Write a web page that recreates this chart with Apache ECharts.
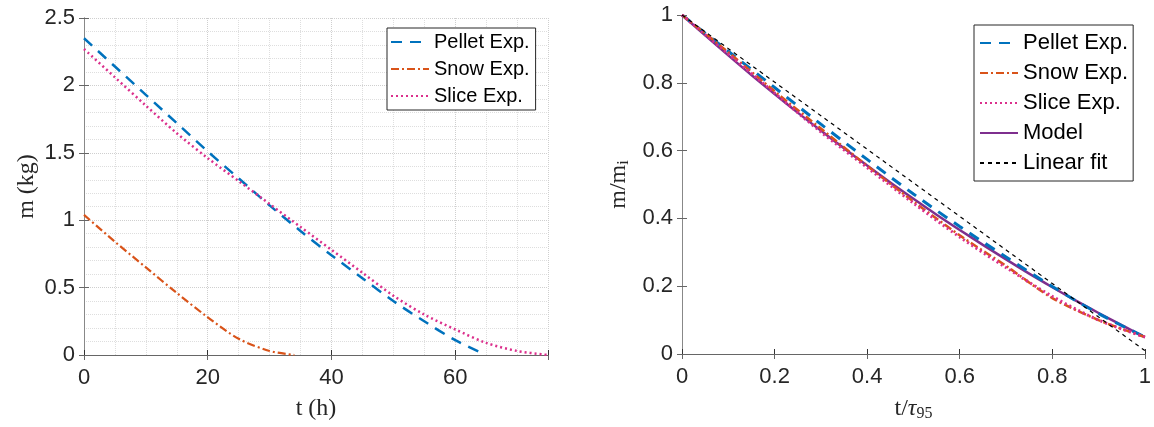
<!DOCTYPE html>
<html>
<head>
<meta charset="utf-8">
<script src="https://cdn.jsdelivr.net/npm/echarts@6/dist/echarts.min.js"></script>
<style>
html,body{margin:0;padding:0;background:#fff;}
#c{width:1154px;height:427px;}
</style>
</head>
<body>
<div id="c"></div>
<script>
// ---- Left panel: absolute mass vs time ----
const pelletT = [0, 5, 10, 15, 20, 25, 30, 35, 40, 45, 50, 55, 60, 64.5];
const pelletM = [2.35, 2.14, 1.93, 1.72, 1.51, 1.31, 1.11, 0.92, 0.74, 0.57, 0.40, 0.25, 0.11, 0.01];
const snowT = [0, 5, 10, 15, 20, 25, 30, 34];
const snowM = [1.04, 0.84, 0.65, 0.46, 0.28, 0.12, 0.03, 0.0];
const sliceT = [0, 5, 10, 15, 20, 25, 30, 35, 40, 45, 50, 55, 60, 65, 70, 75];
const sliceM = [2.27, 2.06, 1.85, 1.645, 1.46, 1.29, 1.12, 0.95, 0.78, 0.61, 0.44, 0.30, 0.19, 0.09, 0.03, 0.0];

// ---- Right panel: normalized mass vs normalized time ----
const normX = [0, 0.1, 0.2, 0.3, 0.4, 0.5, 0.6, 0.7, 0.8, 0.9, 1.0];
const pelletN = [1.0, 0.893, 0.786, 0.678, 0.574, 0.472, 0.376, 0.286, 0.199, 0.119, 0.05];
const snowN = [1.0, 0.89, 0.775, 0.665, 0.555, 0.45, 0.35, 0.26, 0.165, 0.10, 0.05];
const sliceN = [1.0, 0.885, 0.77, 0.655, 0.55, 0.445, 0.345, 0.255, 0.17, 0.10, 0.05];
const modelX = [0, 0.05, 0.1, 0.15, 0.2, 0.25, 0.3, 0.35, 0.4, 0.45, 0.5, 0.55, 0.6, 0.65, 0.7, 0.75, 0.8, 0.85, 0.9, 0.95, 1.0];
const modelN = [1.0, 0.940, 0.881, 0.823, 0.767, 0.712, 0.659, 0.607, 0.556, 0.506, 0.458, 0.411, 0.366, 0.322, 0.279, 0.237, 0.197, 0.158, 0.121, 0.085, 0.05];
const linX = [0, 1];
const linN = [1.0, 0.01];

const leftXTicks = [0, 20, 40, 60];
const leftYTicks = [0, 0.5, 1, 1.5, 2, 2.5];
const rightXTicks = [0, 0.2, 0.4, 0.6, 0.8, 1];
const rightYTicks = [0, 0.2, 0.4, 0.6, 0.8, 1];

function pairs(xs, ys) { return xs.map((x, i) => [x, ys[i]]); }

const C_PELLET = '#0072BD', C_SNOW = '#D95319', C_SLICE = '#DB2F8C', C_MODEL = '#7E2F8E';
const tickFont = { fontFamily: 'Liberation Sans, Arial, sans-serif', fontSize: 22, color: '#262626' };
const serif = 'Liberation Serif, Times New Roman, serif';

function fmt(v) { return String(Math.round(v * 10) / 10); }

const chart = echarts.init(document.getElementById('c'), null, { renderer: 'canvas' });

const legendCommon = {
  orient: 'vertical', itemWidth: 38, itemHeight: 14,
  borderColor: '#262626', borderWidth: 1, backgroundColor: '#fff',
  itemStyle: { opacity: 0, borderWidth: 0 },
  selectedMode: false
};

const option = {
  animation: false,
  backgroundColor: '#fff',
  grid: [
    { left: 84, right: 606, top: 18, bottom: 72, show: false },
    { left: 682, right: 6, top: 15, bottom: 72, show: false }
  ],
  xAxis: [
    { gridIndex: 0, type: 'value', min: 0, max: 75, interval: 20, position: 'bottom',
      name: 't (h)', nameLocation: 'middle', nameGap: 42,
      nameTextStyle: { fontFamily: serif, fontSize: 24, color: '#262626' },
      axisLine: { show: true, lineStyle: { color: '#333', width: 1 } },
      axisTick: { inside: true, length: 5, lineStyle: { color: '#333' } },
      axisLabel: Object.assign({ margin: 12, formatter: v => leftXTicks.includes(v) ? fmt(v) : '' }, tickFont),
      splitLine: { show: true, lineStyle: { color: '#cfcfcf', type: 'dotted', width: 1 } },
      minorTick: { show: true, splitNumber: 4, length: 0 },
      minorSplitLine: { show: true, lineStyle: { color: '#dedede', type: 'dotted', width: 1 } } },
    { gridIndex: 0, type: 'value', min: 0, max: 75, interval: 20, position: 'top',
      axisLine: { show: true, lineStyle: { color: '#666', width: 1 } },
      axisTick: { inside: true, length: 5, lineStyle: { color: '#666' } },
      axisLabel: { show: false }, splitLine: { show: false } },
    { gridIndex: 1, type: 'value', min: 0, max: 1, interval: 0.2, position: 'bottom',
      name: '{a|t/}{b|τ}{s|95}', nameLocation: 'middle', nameGap: 42,
      nameTextStyle: { fontFamily: serif, fontSize: 24, color: '#262626',
        rich: { a: { fontFamily: serif, fontSize: 24, color: '#262626' },
                b: { fontFamily: serif, fontSize: 24, fontStyle: 'italic', color: '#262626' },
                s: { fontFamily: serif, fontSize: 16, color: '#262626', verticalAlign: 'bottom', padding: [10, 0, 0, 0] } } },
      axisLine: { show: true, lineStyle: { color: '#333', width: 1 } },
      axisTick: { inside: true, length: 5, lineStyle: { color: '#333' } },
      axisLabel: Object.assign({ margin: 12, formatter: v => fmt(v) }, tickFont),
      splitLine: { show: false } },
    { gridIndex: 1, type: 'value', min: 0, max: 1, interval: 0.2, position: 'top',
      axisLine: { show: true, lineStyle: { color: '#666', width: 1 } },
      axisTick: { inside: true, length: 5, lineStyle: { color: '#666' } },
      axisLabel: { show: false }, splitLine: { show: false } }
  ],
  yAxis: [
    { gridIndex: 0, type: 'value', min: 0, max: 2.5, interval: 0.5, position: 'left',
      name: 'm (kg)', nameLocation: 'middle', nameGap: 45, nameRotate: 90,
      nameTextStyle: { fontFamily: serif, fontSize: 24, color: '#262626' },
      axisLine: { show: true, lineStyle: { color: '#888', width: 1 } },
      axisTick: { inside: true, length: 5, lineStyle: { color: '#666' } },
      axisLabel: Object.assign({ margin: 9, formatter: v => fmt(v) }, tickFont),
      splitLine: { show: true, lineStyle: { color: '#cfcfcf', type: 'dotted', width: 1 } },
      minorTick: { show: true, splitNumber: 5, length: 0 },
      minorSplitLine: { show: true, lineStyle: { color: '#dedede', type: 'dotted', width: 1 } } },
    { gridIndex: 0, type: 'value', min: 0, max: 2.5, interval: 0.5, position: 'right',
      axisLine: { show: true, lineStyle: { color: '#888', width: 1 } },
      axisTick: { inside: true, length: 5, lineStyle: { color: '#666' } },
      axisLabel: { show: false }, splitLine: { show: false } },
    { gridIndex: 1, type: 'value', min: 0, max: 1, interval: 0.2, position: 'left',
      name: '{a|m/m}{s|i}', nameLocation: 'middle', nameGap: 50, nameRotate: 90,
      nameTextStyle: { fontFamily: serif, fontSize: 24, color: '#262626',
        rich: { a: { fontFamily: serif, fontSize: 24, color: '#262626' },
                s: { fontFamily: serif, fontSize: 16, color: '#262626', padding: [10, 0, 0, 0] } } },
      axisLine: { show: true, lineStyle: { color: '#999', width: 1 } },
      axisTick: { inside: true, length: 5, lineStyle: { color: '#666' } },
      axisLabel: Object.assign({ margin: 9, formatter: v => fmt(v) }, tickFont),
      splitLine: { show: false } },
    { gridIndex: 1, type: 'value', min: 0, max: 1, interval: 0.2, position: 'right',
      axisLine: { show: true, lineStyle: { color: '#888', width: 1 } },
      axisTick: { inside: true, length: 5, lineStyle: { color: '#666' } },
      axisLabel: { show: false }, splitLine: { show: false } }
  ],
  legend: [
    Object.assign({}, legendCommon, { id: 'L', left: 387, top: 28, itemGap: 7,
      padding: [4, 6, 4, 3],
      textStyle: { fontFamily: 'Liberation Sans, Arial, sans-serif', fontSize: 20, color: '#000' },
      data: ['Pellet Exp.', 'Snow Exp.', 'Slice Exp.'].map(n => ({ name: n })) }),
    Object.assign({}, legendCommon, { id: 'R', left: 974, top: 25, itemGap: 8,
      padding: [7, 5, 7, 5],
      textStyle: { fontFamily: 'Liberation Sans, Arial, sans-serif', fontSize: 22, color: '#000' },
      data: ['Pellet Exp. ', 'Snow Exp. ', 'Slice Exp. ', 'Model', 'Linear fit'].map(n => ({ name: n })),
      formatter: n => n.trim() })
  ],
  series: [
    { name: 'Pellet Exp.', type: 'line', xAxisIndex: 0, yAxisIndex: 0, data: pairs(pelletT, pelletM),
      showSymbol: false, symbol: 'none', smooth: 0.3, color: C_PELLET,
      lineStyle: { color: C_PELLET, width: 2.5, type: [11, 8] } },
    { name: 'Snow Exp.', type: 'line', xAxisIndex: 0, yAxisIndex: 0, data: pairs(snowT, snowM),
      showSymbol: false, symbol: 'none', smooth: 0.3, color: C_SNOW,
      lineStyle: { color: C_SNOW, width: 2.2, type: [8, 3, 2, 3] } },
    { name: 'Slice Exp.', type: 'line', xAxisIndex: 0, yAxisIndex: 0, data: pairs(sliceT, sliceM),
      showSymbol: false, symbol: 'none', smooth: 0.3, color: C_SLICE,
      lineStyle: { color: C_SLICE, width: 2.5, type: [2, 3] } },

    { name: 'Linear fit', type: 'line', xAxisIndex: 2, yAxisIndex: 2, data: pairs(linX, linN),
      showSymbol: false, symbol: 'none', color: '#000', z: 5,
      lineStyle: { color: '#000', width: 1.2, type: [4, 4] } },
    { name: 'Model', type: 'line', xAxisIndex: 2, yAxisIndex: 2, data: pairs(modelX, modelN),
      showSymbol: false, symbol: 'none', smooth: 0.3, color: C_MODEL,
      lineStyle: { color: C_MODEL, width: 2.5, type: 'solid' } },
    { name: 'Pellet Exp. ', type: 'line', xAxisIndex: 2, yAxisIndex: 2, data: pairs(normX, pelletN),
      showSymbol: false, symbol: 'none', smooth: 0.3, color: C_PELLET,
      lineStyle: { color: C_PELLET, width: 3, type: [11, 8] } },
    { name: 'Snow Exp. ', type: 'line', xAxisIndex: 2, yAxisIndex: 2, data: pairs(normX, snowN),
      showSymbol: false, symbol: 'none', smooth: 0.3, color: C_SNOW,
      lineStyle: { color: C_SNOW, width: 2.5, type: [8, 3, 2, 3] } },
    { name: 'Slice Exp. ', type: 'line', xAxisIndex: 2, yAxisIndex: 2, data: pairs(normX, sliceN),
      showSymbol: false, symbol: 'none', smooth: 0.3, color: C_SLICE,
      lineStyle: { color: C_SLICE, width: 3, type: [2, 3] } }
  ]
};
chart.setOption(option);
</script>
</body>
</html>
